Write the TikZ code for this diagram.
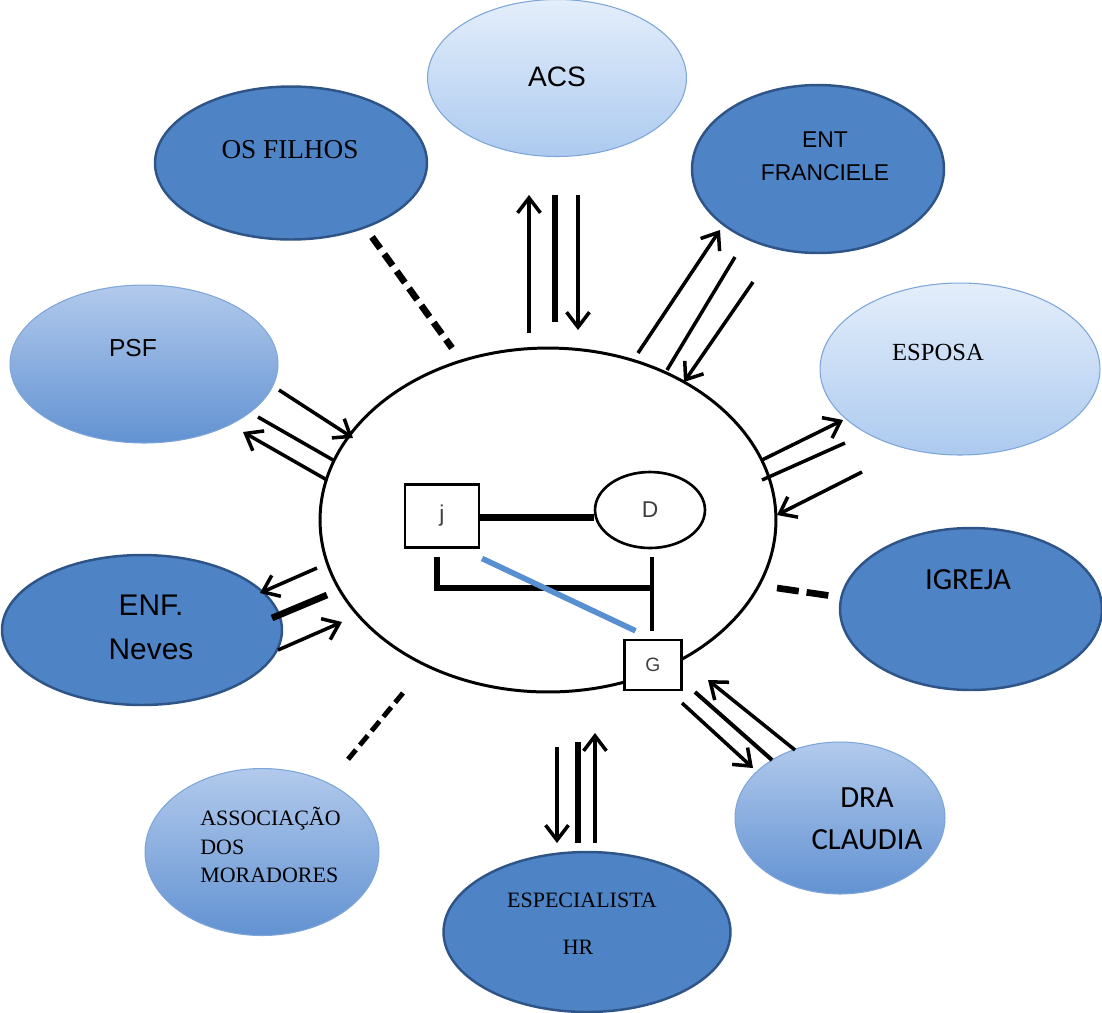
\documentclass[tikz,border=0pt]{standalone}
\usepackage{fontspec}
\setmainfont{Liberation Serif}
\newfontfamily\arial{Liberation Sans}
\newfontfamily\calib{Carlito}
\usetikzlibrary{arrows.meta, shapes.geometric}
\definecolor{bubdark}{RGB}{78,132,197}
\definecolor{bubedge}{RGB}{46,84,136}
\definecolor{paletop}{RGB}{228,238,251}
\definecolor{palebot}{RGB}{172,202,239}
\definecolor{paleedge}{RGB}{125,165,218}
\definecolor{midtop}{RGB}{178,202,236}
\definecolor{midbot}{RGB}{98,146,210}
\definecolor{kinblue}{RGB}{88,143,208}

\begin{document}
\begin{tikzpicture}[x=0.02cm, y=-0.02cm,
    bubble/.style={ellipse, inner sep=0pt},
    dark/.style={bubble, fill=bubdark, draw=bubedge, line width=1.4pt},
    pale/.style={bubble, top color=paletop, bottom color=palebot, draw=paleedge, line width=0.6pt},
    mid/.style={bubble, top color=midtop, bottom color=midbot, draw=paleedge, line width=0.6pt},
    sans/.style={font=\arial\fontsize{14}{17}\selectfont},
    serif/.style={font=\fontsize{13}{16}\selectfont},
    box/.style={draw, fill=white, line width=1.5pt, font=\arial\fontsize{13}{15}\selectfont, text=black!75},
    arr/.style={line width=2pt, -{Straight Barb[length=8.5pt, width=13pt]}},
    thin/.style={line width=2pt},
    bar/.style={line width=3.8pt},
    kin/.style={line width=3.4pt}
]
    \useasboundingbox (0,0) rectangle (1102,1012);

    % outer bubbles
    \node[pale, minimum width=5.18cm, minimum height=3.14cm] (acs) at (557,78) {};
    \node[dark, minimum width=5.44cm, minimum height=3.06cm] (filhos) at (291,163) {};
    \node[dark, minimum width=5.04cm, minimum height=3.36cm] (ent) at (818,169) {};
    \node[mid, minimum width=5.36cm, minimum height=3.16cm] (psf) at (144,364) {};
    \node[pale, minimum width=5.6cm, minimum height=3.44cm] (esposa) at (960,369) {};
    \node[dark, minimum width=5.6cm, minimum height=3.0cm] (enf) at (142,630) {};
    \node[dark, minimum width=5.24cm, minimum height=3.24cm] (igreja) at (971,609) {};
    \node[mid, minimum width=4.68cm, minimum height=3.34cm] (assoc) at (262,852) {};
    \node[dark, minimum width=5.74cm, minimum height=3.2cm] (espec) at (587,932) {};
    \node[mid, minimum width=4.2cm, minimum height=3.04cm] (dra) at (840,818) {};

    \node[sans, font=\arial\fontsize{16}{19}\selectfont] (acst) at (557,77) {ACS};
    \node[serif, font=\fontsize{15.5}{18}\selectfont] (filhost) at (290,150) {OS FILHOS};
    \node[sans, font=\arial\fontsize{13}{18.5}\selectfont, align=center] (entt) at (825,156) {ENT\\FRANCIELE};
    \node[sans] (psft) at (133,348) {PSF};
    \node[serif, font=\fontsize{14}{16}\selectfont] (esposat) at (938,352) {ESPOSA};
    \node[sans, font=\arial\fontsize{17}{25}\selectfont, align=center] (enft) at (151,627) {ENF.\\Neves};
    \node[font=\calib\fontsize{17.5}{20}\selectfont] (igrejat) at (968,580) {IGREJA};
    \node[font=\calib\fontsize{17.5}{24}\selectfont, align=center] (drat) at (867,819) {DRA\\CLAUDIA};
    \node[serif, font=\fontsize{12.5}{16}\selectfont, align=left, anchor=west, inner sep=0pt] (assoct) at (200,845) {ASSOCIAÇÃO\\DOS\\MORADORES};
    \node[serif, font=\fontsize{12.5}{14}\selectfont] (espect) at (582,900) {ESPECIALISTA};
    \node[serif, font=\fontsize{12.5}{14}\selectfont] (hrt) at (578,947) {HR};

    % family in the middle
    \node[ellipse, draw, fill=white, line width=1.7pt, minimum width=9.12cm, minimum height=6.88cm] (fam) at (548,520) {};
    \node[box, minimum width=1.48cm, minimum height=1.26cm] (j) at (442,516) {j};
    \node[box, ellipse, minimum width=2.2cm, minimum height=1.52cm] (d) at (650,510) {D};
    \node[box, minimum width=1.14cm, minimum height=1cm, font=\arial\fontsize{11}{13}\selectfont] (g) at (653,665) {G};

    \draw[kin, line width=4.2pt] ([yshift=-1pt]j.east) -- ([yshift=-1pt]j.east -| d.west);
    \coordinate (jdrop) at (437,557);
    \coordinate (ddrop) at (652,557);
    \coordinate (sib) at (652,588);
    \draw[kin] (jdrop) |- (sib);
    \draw[kin, line width=2.8pt, shorten >=4.5pt] (ddrop) -- (ddrop |- g.north);
    \draw[line width=3.2pt, kinblue] ([xshift=1pt, yshift=-5.5pt]j.south east) -- ([xshift=7pt, yshift=4.5pt]g.north west);

    % ACS
    \coordinate (acsU1) at (529,333); \coordinate (acsU2) at (529,195);
    \coordinate (acsB1) at (555,322); \coordinate (acsB2) at (555,195);
    \coordinate (acsD1) at (578,195); \coordinate (acsD2) at (578,330);
    \draw[arr] (acsU1) -- (acsU2);
    \draw[bar] (acsB1) -- (acsB2);
    \draw[arr] (acsD1) -- (acsD2);

    % ENT FRANCIELE
    \coordinate (entU1) at (638,353); \coordinate (entU2) at (720,230);
    \coordinate (entL1) at (667,370); \coordinate (entL2) at (735,257);
    \coordinate (entD1) at (753,282); \coordinate (entD2) at (684,382);
    \draw[arr] (entU1) -- (entU2);
    \draw[thin] (entL1) -- (entL2);
    \draw[arr] (entD1) -- (entD2);

    % ESPOSA
    \coordinate (espU1) at (762,460); \coordinate (espU2) at (843,420);
    \coordinate (espL1) at (762,480); \coordinate (espL2) at (845,443);
    \coordinate (espD1) at (862,472); \coordinate (espD2) at (777,515);
    \draw[arr] (espU1) -- (espU2);
    \draw[thin] (espL1) -- (espL2);
    \draw[arr] (espD1) -- (espD2);

    % IGREJA
    \coordinate (igr1) at (777,588); \coordinate (igr2) at (832,596);
    \draw[line width=3.8pt, dash pattern=on 12.5pt off 4.5pt] (igr1) -- (igr2);

    % DRA CLAUDIA
    \coordinate (draD1) at (682,703); \coordinate (draD2) at (753,768);
    \coordinate (draL1) at (695,692); \coordinate (draL2) at (772,760);
    \coordinate (draU1) at (795,750); \coordinate (draU2) at (708,680);
    \draw[arr] (draD1) -- (draD2);
    \draw[thin, line width=2.3pt] (draL1) -- (draL2);
    \draw[arr] (draU1) -- (draU2);

    % ESPECIALISTA
    \coordinate (speD1) at (557,747); \coordinate (speD2) at (557,843);
    \coordinate (speB1) at (578,742); \coordinate (speB2) at (578,843);
    \coordinate (speU1) at (595,843); \coordinate (speU2) at (595,733);
    \draw[arr] (speD1) -- (speD2);
    \draw[bar] (speB1) -- (speB2);
    \draw[arr] (speU1) -- (speU2);

    % ASSOCIACAO
    \coordinate (asc1) at (403,693); \coordinate (asc2) at (345,763);
    \draw[line width=2.8pt, dash pattern=on 7pt off 3.5pt] (asc1) -- (asc2);

    % ENF. Neves
    \coordinate (enfO1) at (317,568); \coordinate (enfO2) at (260,593);
    \coordinate (enfB1) at (327,595); \coordinate (enfB2) at (272,618);
    \coordinate (enfI1) at (278,650); \coordinate (enfI2) at (342,622);
    \draw[arr] (enfO1) -- (enfO2);
    \draw[bar] (enfB1) -- (enfB2);
    \draw[arr] (enfI1) -- (enfI2);

    % PSF
    \coordinate (psfI1) at (279,390); \coordinate (psfI2) at (353,438);
    \coordinate (psfL1) at (258,417); \coordinate (psfL2) at (333,460);
    \coordinate (psfO1) at (327,480); \coordinate (psfO2) at (243,432);
    \draw[arr] (psfI1) -- (psfI2);
    \draw[thin] (psfL1) -- (psfL2);
    \draw[arr] (psfO1) -- (psfO2);

    % OS FILHOS
    \coordinate (fil1) at (372,237); \coordinate (fil2) at (452,348);
    \draw[line width=3.8pt, dash pattern=on 8pt off 4pt] (fil1) -- (fil2);
\end{tikzpicture}
\end{document}
